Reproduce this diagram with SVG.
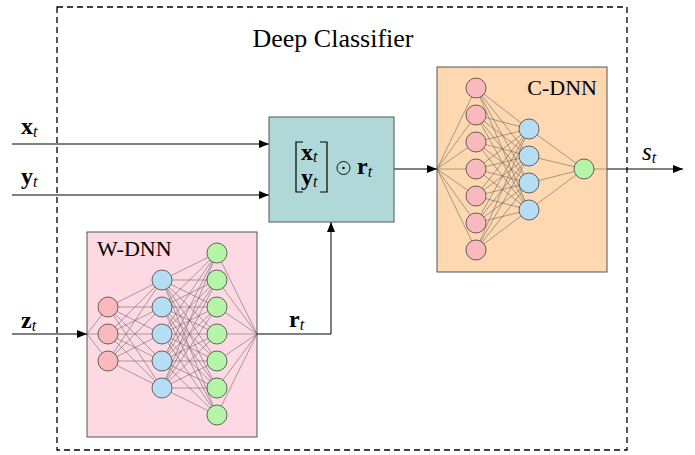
<svg xmlns="http://www.w3.org/2000/svg" width="695" height="455" viewBox="0 0 695 455">
<style>
.lbl{font-family:"Liberation Serif","Times New Roman",serif;fill:#000}
.math{font-family:"Liberation Serif","Times New Roman",serif;font-weight:bold;font-size:24px;fill:#000}
.sub{font-family:"Liberation Serif","Times New Roman",serif;font-style:italic;font-weight:normal;font-size:16px}
.wire{stroke:#000;stroke-width:1;fill:none}
.net{stroke:#555;stroke-width:0.5;fill:none}
.r{fill:#f9b9bd;stroke:#444;stroke-width:0.8}
.b{fill:#b5def5;stroke:#444;stroke-width:0.8}
.g{fill:#b5f5a8;stroke:#444;stroke-width:0.8}
</style>
<defs>
<marker id="arr" viewBox="0 0 10 8" refX="10" refY="4" markerWidth="10" markerHeight="8" markerUnits="userSpaceOnUse" orient="auto">
<path d="M0 0L10 4L0 8z" fill="#000"/>
</marker>
</defs>
<rect width="695" height="455" fill="#fff"/>
<g id="deep-classifier">
<rect x="57" y="7" width="570" height="443" fill="none" stroke="#000" stroke-width="1.3" stroke-dasharray="6 4"/>
<text class="lbl" x="333" y="47" font-size="26" text-anchor="middle">Deep Classifier</text>
</g>
<g id="connectors">
<path class="wire" d="M12 144H269" marker-end="url(#arr)"/>
<path class="wire" d="M12 195H269" marker-end="url(#arr)"/>
<path class="wire" d="M12 334H87" marker-end="url(#arr)"/>
<path class="wire" d="M257 334H331V222" marker-end="url(#arr)"/>
<path class="wire" d="M394 169H437" marker-end="url(#arr)"/>
<path class="wire" d="M607 169H683" marker-end="url(#arr)"/>
<text class="math" x="21" y="134">x<tspan class="sub" dy="3">t</tspan></text>
<text class="math" x="21" y="184">y<tspan class="sub" dy="3">t</tspan></text>
<text class="math" x="21" y="328">z<tspan class="sub" dy="3">t</tspan></text>
<text class="math" x="289" y="327">r<tspan class="sub" dy="3">t</tspan></text>
<text class="lbl" x="642" y="160" font-size="25" font-style="italic">s<tspan font-size="16" dy="3">t</tspan></text>
</g>
<g id="w-dnn">
<rect x="87" y="232" width="170" height="205" fill="#fdd9e4" stroke="#555" stroke-width="1"/>
<text class="lbl" x="97" y="256" font-size="22">W-DNN</text>
<path class="net" d="M87 334L108 307M87 334L108 334M87 334L108 361
M108 307L162 280M108 307L162 307M108 307L162 334M108 307L162 361M108 307L162 388
M108 334L162 280M108 334L162 307M108 334L162 334M108 334L162 361M108 334L162 388
M108 361L162 280M108 361L162 307M108 361L162 334M108 361L162 361M108 361L162 388
M162 280L217 253M162 280L217 280M162 280L217 307M162 280L217 334M162 280L217 361M162 280L217 388M162 280L217 415
M162 307L217 253M162 307L217 280M162 307L217 307M162 307L217 334M162 307L217 361M162 307L217 388M162 307L217 415
M162 334L217 253M162 334L217 280M162 334L217 307M162 334L217 334M162 334L217 361M162 334L217 388M162 334L217 415
M162 361L217 253M162 361L217 280M162 361L217 307M162 361L217 334M162 361L217 361M162 361L217 388M162 361L217 415
M162 388L217 253M162 388L217 280M162 388L217 307M162 388L217 334M162 388L217 361M162 388L217 388M162 388L217 415
M217 253L257 334M217 280L257 334M217 307L257 334M217 334L257 334M217 361L257 334M217 388L257 334M217 415L257 334"/>
<circle class="r" cx="108" cy="307" r="10"/>
<circle class="r" cx="108" cy="334" r="10"/>
<circle class="r" cx="108" cy="361" r="10"/>
<circle class="b" cx="162" cy="280" r="10"/>
<circle class="b" cx="162" cy="307" r="10"/>
<circle class="b" cx="162" cy="334" r="10"/>
<circle class="b" cx="162" cy="361" r="10"/>
<circle class="b" cx="162" cy="388" r="10"/>
<circle class="g" cx="217" cy="253" r="10"/>
<circle class="g" cx="217" cy="280" r="10"/>
<circle class="g" cx="217" cy="307" r="10"/>
<circle class="g" cx="217" cy="334" r="10"/>
<circle class="g" cx="217" cy="361" r="10"/>
<circle class="g" cx="217" cy="388" r="10"/>
<circle class="g" cx="217" cy="415" r="10"/>
</g>
<g id="combiner">
<rect x="269" y="117" width="125" height="105" fill="#b1d8d8" stroke="#555" stroke-width="1"/>
<path d="M303 142H296V192H303M320 142H327V192H320" fill="none" stroke="#000" stroke-width="1.2"/>
<text class="math" x="301" y="160" font-size="21">x<tspan class="sub" dy="2" font-size="15">t</tspan></text>
<text class="math" x="301" y="185" font-size="21">y<tspan class="sub" dy="2" font-size="15">t</tspan></text>
<circle cx="343.5" cy="168" r="6.5" fill="none" stroke="#000" stroke-width="0.9"/>
<circle cx="343.5" cy="168" r="1.2" fill="#000"/>
<text class="math" x="357" y="174">r<tspan class="sub" dy="3">t</tspan></text>
</g>
<g id="c-dnn">
<rect x="437" y="67" width="170" height="205" fill="#fdd8b0" stroke="#555" stroke-width="1"/>
<text class="lbl" x="597" y="95" font-size="22" text-anchor="end">C-DNN</text>
<path class="net" d="M437 169L476 88M437 169L476 115M437 169L476 142M437 169L476 169M437 169L476 196M437 169L476 223M437 169L476 250
M476 88L529 129M476 88L529 156M476 88L529 183M476 88L529 210
M476 115L529 129M476 115L529 156M476 115L529 183M476 115L529 210
M476 142L529 129M476 142L529 156M476 142L529 183M476 142L529 210
M476 169L529 129M476 169L529 156M476 169L529 183M476 169L529 210
M476 196L529 129M476 196L529 156M476 196L529 183M476 196L529 210
M476 223L529 129M476 223L529 156M476 223L529 183M476 223L529 210
M476 250L529 129M476 250L529 156M476 250L529 183M476 250L529 210
M529 129L584 169M529 156L584 169M529 183L584 169M529 210L584 169M584 169L607 169"/>
<circle class="r" cx="476" cy="88" r="10"/>
<circle class="r" cx="476" cy="115" r="10"/>
<circle class="r" cx="476" cy="142" r="10"/>
<circle class="r" cx="476" cy="169" r="10"/>
<circle class="r" cx="476" cy="196" r="10"/>
<circle class="r" cx="476" cy="223" r="10"/>
<circle class="r" cx="476" cy="250" r="10"/>
<circle class="b" cx="529" cy="129" r="10"/>
<circle class="b" cx="529" cy="156" r="10"/>
<circle class="b" cx="529" cy="183" r="10"/>
<circle class="b" cx="529" cy="210" r="10"/>
<circle class="g" cx="584" cy="169" r="10"/>
</g>
</svg>
